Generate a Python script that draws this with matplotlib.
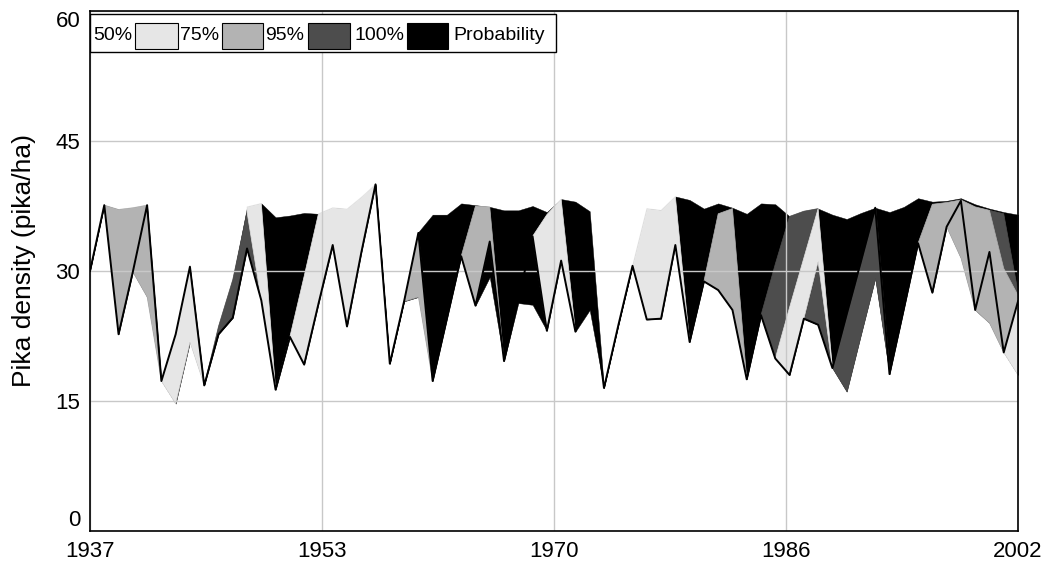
import numpy as np
import matplotlib
matplotlib.use("Agg")
import matplotlib.pyplot as plt
from matplotlib.patches import Rectangle

plt.rcParams['font.family'] = ['Liberation Sans', 'DejaVu Sans']

nan = np.nan
years = np.arange(1937, 2003)

# observed pika density (pika/ha)
density = [30.0, 37.6, 22.7, 29.9, 37.6, 17.3, 22.7, 30.5, 16.8, 22.7,
           24.6, 32.6, 26.6, 16.3, 22.4, 19.2, 26.2, 33.0, 23.6, 32.1,
           40.0, 19.3, 26.5, 34.4, 17.3, 24.5, 31.7, 26.0, 33.4, 19.6,
           26.7, 34.0, 23.1, 31.2, 23.0, 29.7, 16.5, 23.7, 30.6, 24.4,
           24.5, 33.0, 21.8, 28.8, 27.8, 25.5, 17.5, 24.9, 19.9, 18.0,
           24.5, 23.8, 18.8, 25.0, 31.1, 37.3, 18.1, 25.6, 33.2, 27.5,
           35.1, 38.1, 25.5, 32.2, 20.6, 26.5]

# shaded envelope (Probability), lower and upper edge
prob_lo = [30.0, 37.6, 22.7, 29.9, 27.0, 17.3, 14.7, 21.8, 16.8, 22.7,
           24.6, 32.6, 26.6, 16.3, 22.4, 19.2, 26.2, 33.0, 23.6, 32.1,
           40.0, 19.3, 26.5, 27.0, 17.3, 24.5, 31.7, 26.0, 29.3, 19.6,
           26.3, 26.1, 23.1, 31.2, 23.0, 25.5, 16.5, 23.7, 30.6, 24.4,
           24.5, 33.0, 21.8, 28.8, 27.8, 25.5, 17.5, 24.9, 19.9, 18.0,
           24.5, 23.8, 18.8, 16.1, 22.7, 29.2, 18.1, 25.6, 33.2, 27.5,
           35.1, 31.5, 25.5, 24.0, 20.6, 18.0]
prob_hi = [30.0, 37.6, 37.1, 37.3, 37.6, 17.3, 22.7, 30.5, 16.8, 23.6,
           29.0, 37.4, 37.8, 36.2, 36.4, 36.7, 36.6, 37.3, 37.15, 38.5,
           40.0, 19.3, 26.5, 34.5, 36.5, 36.5, 37.8, 37.6, 37.4, 37.0,
           37.0, 37.5, 36.8, 38.3, 38.0, 36.9, 16.5, 23.7, 30.6, 37.2,
           37.0, 38.6, 38.2, 37.2, 37.8, 37.3, 36.6, 37.8, 37.7, 36.3,
           36.9, 37.2, 36.5, 36.0, 36.7, 37.3, 36.8, 37.4, 38.4, 38.0,
           38.1, 38.4, 37.7, 37.2, 36.8, 36.5]

# 100% band (two overlapping sets)
p100_lo = [nan, nan, nan, nan, nan, nan, nan, nan, 16.8, 22.7,
           24.6, 32.6, 26.6, nan, nan, nan, nan, nan, nan, nan,
           nan, nan, nan, nan, nan, nan, nan, nan, nan, nan,
           nan, nan, nan, nan, nan, nan, nan, nan, nan, nan,
           nan, nan, nan, nan, nan, nan, nan, 24.9, 19.9, 25.8,
           31.5, 37.2, nan, nan, nan, nan, nan, nan, nan, nan,
           nan, nan, nan, 37.0, 30.3, 27.2]
p100_hi = [nan, nan, nan, nan, nan, nan, nan, nan, 16.8, 23.6,
           29.0, 36.8, 26.6, nan, nan, nan, nan, nan, nan, nan,
           nan, nan, nan, nan, nan, nan, nan, nan, nan, nan,
           nan, nan, nan, nan, nan, nan, nan, nan, nan, nan,
           nan, nan, nan, nan, nan, nan, nan, 24.9, 30.8, 36.3,
           36.9, 37.2, nan, nan, nan, nan, nan, nan, nan, nan,
           nan, nan, nan, 37.0, 36.6, 27.6]
p100b_lo = [nan] * 50 + [24.5, 23.8, 18.8, 16.1, 22.7, 29.2, 18.1] + [nan] * 9
p100b_hi = [nan] * 50 + [24.5, 31.1, 18.8, 25.0, 31.1, 37.3, 18.1] + [nan] * 9

# 95% band
p95_lo = [nan, 37.6, 22.7, 29.9, 27.0, 17.3, nan, nan, nan, nan,
          nan, nan, nan, nan, nan, nan, nan, nan, nan, nan,
          nan, nan, 26.5, 27.0, 17.3, nan, 31.7, 26.0, 33.4, 19.6,
          nan, nan, nan, nan, nan, nan, nan, nan, nan, nan,
          nan, nan, nan, 28.8, 27.8, 25.5, 17.5, nan, nan, nan,
          nan, nan, nan, nan, nan, nan, nan, nan, 33.2, 27.5,
          35.1, 31.5, 25.5, 24.0, 20.6, 26.5]
p95_hi = [nan, 37.6, 37.1, 37.3, 37.6, 17.3, nan, nan, nan, nan,
          nan, nan, nan, nan, nan, nan, nan, nan, nan, nan,
          nan, nan, 26.5, 34.4, 17.3, nan, 31.7, 37.5, 37.4, 19.6,
          nan, nan, nan, nan, nan, nan, nan, nan, nan, nan,
          nan, nan, nan, 28.8, 36.6, 37.2, 17.5, nan, nan, nan,
          nan, nan, nan, nan, nan, nan, nan, nan, 33.2, 37.7,
          37.9, 38.2, 37.4, 37.0, 30.3, 27.2]

# 75% band
p75_lo = [nan, nan, nan, nan, nan, 17.3, 14.7, 21.8, 16.8, nan,
          nan, 36.8, 26.6, 16.3, 22.4, 19.2, 26.2, 33.0, 23.6, 32.1,
          40.0, nan, nan, nan, nan, nan, nan, nan, nan, nan,
          nan, 34.0, 23.1, 31.2, 23.0, nan, nan, nan, 30.6, 24.4,
          24.5, 33.0, 21.8, nan, nan, nan, nan, nan, 19.9, 18.0,
          24.5, 31.1, 18.8, nan, nan, nan, nan, nan, nan, nan,
          nan, nan, nan, nan, 20.6, 18.0]
p75_hi = [nan, nan, nan, nan, nan, 17.3, 22.7, 30.5, 16.8, nan,
          nan, 37.4, 37.8, 16.3, 22.4, 29.4, 36.6, 37.3, 37.15, 38.5,
          40.0, nan, nan, nan, nan, nan, nan, nan, nan, nan,
          nan, 34.0, 36.5, 38.3, 23.0, nan, nan, nan, 30.6, 37.2,
          37.0, 38.6, 21.8, nan, nan, nan, nan, nan, 19.9, 25.8,
          31.5, 37.2, 18.8, nan, nan, nan, nan, nan, nan, nan,
          nan, nan, nan, nan, 20.6, 26.5]

legend_labels = ['50%', '75%', '95%', '100%', 'Probability']
x_tick_labels = ['1937', '1953', '1970', '1986', '2002']
y_ticks = [0, 15, 30, 45, 60]

LIGHT, GRAY, DARK, BLACK = '#e6e6e6', '#b3b3b3', '#4d4d4d', '#000000'

fig = plt.figure(figsize=(10.48, 5.62), dpi=100)
ax = fig.add_axes([90 / 1048, 31 / 562, 928 / 1048, 520 / 562])

ax.fill_between(years, prob_lo, prob_hi, facecolor=BLACK, edgecolor=BLACK,
                lw=0.3, zorder=1)
for lo, hi, c in [(p100_lo, p100_hi, DARK), (p100b_lo, p100b_hi, DARK),
                  (p95_lo, p95_hi, GRAY), (p75_lo, p75_hi, LIGHT)]:
    ax.fill_between(years, np.array(lo, float), np.array(hi, float),
                    facecolor=c, edgecolor=c, lw=0.5, zorder=1.2)

ax.plot(years, density, color='black', lw=1.4, zorder=3)

ax.set_xlim(1937, 2002)
ax.set_ylim(0, 60)
ax.set_xticks(np.linspace(1937, 2002, 5))
ax.set_xticklabels(x_tick_labels)
ax.set_yticks(y_ticks)
ax.set_yticklabels([str(v) for v in y_ticks])
ax.tick_params(length=0, labelsize=16, pad=7)
ylabs = ax.get_yticklabels()
ylabs[0].set_va('bottom')
ylabs[-1].set_va('top')

ax.set_axisbelow(False)
ax.grid(True, color='#c8c8c8', lw=1.0)
for s in ax.spines.values():
    s.set_linewidth(1.2)
    s.set_zorder(4)

ax.set_ylabel('Pika density (pika/ha)', fontsize=19)
ax.yaxis.set_label_coords(-0.058, 0.52)

# legend row: label followed by its swatch
def fx(px):
    return (px - 90) / 928

def fy(py):
    return (531 - py) / 520

ax.add_patch(Rectangle((fx(90), fy(52)), fx(556) - fx(90), fy(14) - fy(52),
                       transform=ax.transAxes, facecolor='white',
                       edgecolor='black', lw=1.0, zorder=5))
text_x = [93, 180, 265, 354, 453]
swatch_x = [(135, 178), (222, 263), (308, 350), (407, 448)]
swatch_c = [LIGHT, GRAY, DARK, BLACK]
for lbl, tx in zip(legend_labels, text_x):
    ax.text(fx(tx), fy(36), lbl, transform=ax.transAxes, ha='left',
            va='center', fontsize=14, zorder=6)
for (x0, x1), c in zip(swatch_x, swatch_c):
    ax.add_patch(Rectangle((fx(x0), fy(49)), fx(x1) - fx(x0), fy(23) - fy(49),
                           transform=ax.transAxes, facecolor=c,
                           edgecolor='black', lw=0.8, zorder=6))

fig.savefig('out.png', dpi=100)
